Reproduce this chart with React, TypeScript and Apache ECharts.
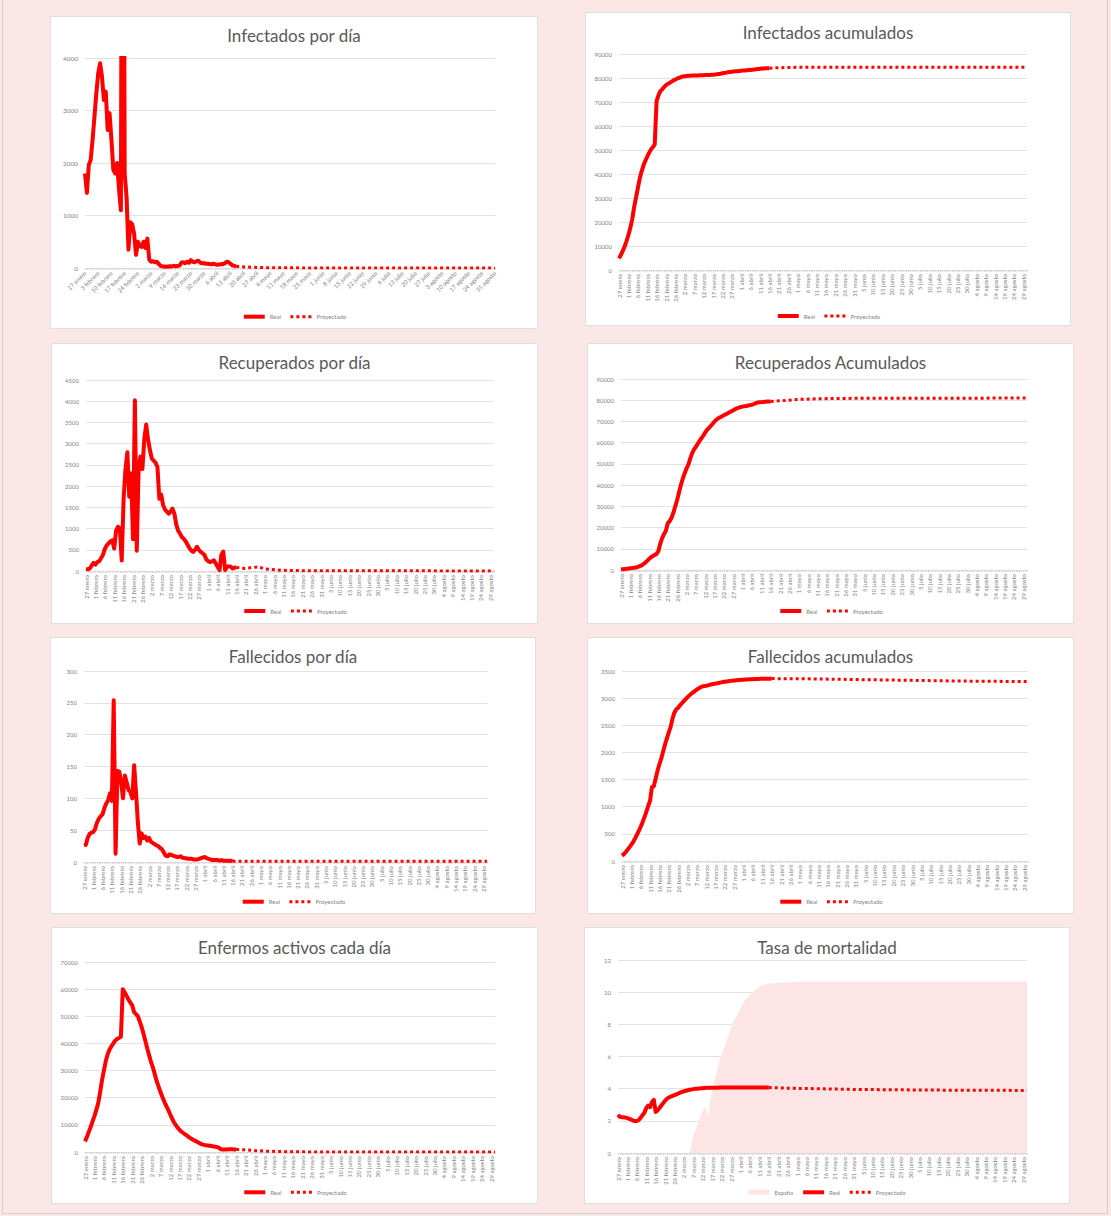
import React, { useEffect, useRef } from 'react';
import * as echarts from 'echarts';

const FONT = 'Lato, "Liberation Sans", sans-serif';
const RED = '#ff0000';
const PINK = '#fde5e5';

// ---------- categories (27 enero .. 31 agosto) ----------
const monthNames = ['enero', 'febrero', 'marzo', 'abril', 'mayo', 'junio', 'julio', 'agosto'];
const monthLengths = [31, 29, 31, 30, 31, 30, 31, 31];
const firstDay = 27;
function buildDates(): string[] {
  const out: string[] = [];
  for (let m = 0; m < monthNames.length; m++) {
    const start = m === 0 ? firstDay : 1;
    for (let d = start; d <= monthLengths[m]; d++) out.push(`${d} ${monthNames[m]}`);
  }
  return out;
}
const dates = buildDates();

// ---------- data (real: one value per day from 27 enero; projection: [dayIndex, value]) ----------
const infDiaReal = [
  1800, 1430, 1960, 2060, 2440, 2880, 3330, 3710, 3900, 3640,
  3200, 3360, 2630, 2950, 2440, 1870, 1800, 2000, 1500, 1100,
  15150, 1800, 1350, 350, 870, 830, 650, 250, 500, 420,
  400, 500, 380, 560, 160, 120, 130, 110, 120, 80,
  40, 30, 30, 25, 30, 35, 30, 40, 35, 40,
  45, 100, 110, 90, 120, 100, 150, 120, 110, 130,
  140, 100, 90, 90, 80, 80, 75, 70, 80, 70,
  60, 65, 75, 70, 90, 120, 110, 80, 50, 40,
  30];
const infDiaProy = [[80, 30], [85, 20], [90, 12], [96, 6], [105, 3], [130, 1], [217, 0]];

const infAcumReal = [
  4850, 6300, 8000, 9800, 12000, 14500, 17500, 21000, 26000, 30000,
  34000, 38000, 41000, 43500, 45500, 47200, 48800, 50200, 51200, 52300,
  70500, 72800, 74500, 75300, 76300, 77000, 77600, 78000, 78500, 79000,
  79400, 79800, 80100, 80400, 80600, 80700, 80800, 80900, 80950, 81000,
  81030, 81060, 81090, 81120, 81150, 81180, 81210, 81250, 81280, 81320,
  81380, 81450, 81550, 81680, 81800, 81950, 82100, 82250, 82380, 82500,
  82600, 82700, 82780, 82850, 82920, 83000, 83080, 83150, 83220, 83300,
  83380, 83450, 83530, 83620, 83720, 83830, 83930, 84000, 84050, 84080,
  84100];
const infAcumProy = [[80, 84100], [85, 84300], [95, 84450], [217, 84500]];

const recDiaReal = [
  50, 40, 60, 130, 190, 150, 210, 230, 300, 380,
  520, 600, 650, 700, 720, 530, 950, 1040, 1000, 250,
  1700, 2400, 2800, 1750, 2300, 750, 4020, 480, 2450, 2700,
  2400, 3100, 3450, 3100, 2850, 2650, 2600, 2550, 2450, 1700,
  1800, 1550, 1450, 1400, 1350, 1400, 1470, 1350, 1100, 950,
  880, 800, 760, 700, 620, 540, 480, 450, 500, 570,
  500, 450, 420, 380, 270, 230, 210, 230, 250, 180,
  100, 20, 380, 460, 20, 100, 110, 100, 60, 80,
  90];
const recDiaProy = [[80, 90], [83, 60], [88, 80], [92, 95], [95, 50], [98, 35], [105, 15], [120, 5], [217, 2]];

const recAcumReal = [
  300, 350, 420, 550, 700, 850, 950, 1050, 1150, 1400,
  1800, 2200, 2800, 3500, 4300, 5200, 6000, 6600, 7100, 7500,
  9000, 12500, 15000, 17000, 18500, 22000, 23000, 24600, 27000, 30000,
  33000, 36500, 40000, 43000, 45500, 47800, 49700, 52500, 55000, 56800,
  58000, 59400, 60800, 62100, 63300, 64800, 66000, 67000, 67900, 68900,
  70000, 70800, 71500, 72000, 72400, 72900, 73400, 73800, 74300, 74800,
  75300, 75800, 76200, 76500, 76800, 77000, 77200, 77300, 77500, 77700,
  77900, 78200, 78600, 78900, 79000, 79100, 79200, 79300, 79350, 79400,
  79450];
const recAcumProy = [[80, 79450], [88, 79900], [96, 80400], [105, 80700], [130, 80950], [217, 81000]];

const falDiaReal = [
  26, 27, 38, 44, 46, 47, 52, 62, 68, 72,
  75, 85, 92, 97, 108, 96, 254, 13, 143, 142,
  125, 100, 136, 125, 113, 110, 100, 152, 110, 62,
  29, 45, 38, 40, 34, 38, 32, 30, 28, 26,
  25, 22, 20, 15, 10, 9, 12, 11, 10, 9,
  8, 8, 9, 7, 6, 6, 5, 5, 5, 4,
  4, 4, 5, 6, 7, 8, 6, 5, 4, 3,
  3, 3, 3, 2, 3, 2, 2, 2, 2, 2,
  1];
const falDiaProy = [[80, 1], [217, 1]];

const falAcumReal = [
  100, 127, 165, 209, 255, 302, 354, 416, 484, 556,
  631, 716, 808, 905, 1013, 1109, 1363, 1376, 1519, 1661,
  1786, 1886, 2022, 2147, 2260, 2370, 2470, 2622, 2732, 2794,
  2823, 2868, 2906, 2946, 2980, 3018, 3050, 3080, 3108, 3134,
  3159, 3181, 3201, 3216, 3222, 3228, 3235, 3248, 3255, 3262,
  3268, 3276, 3282, 3290, 3296, 3302, 3308, 3313, 3318, 3322,
  3326, 3330, 3333, 3336, 3338, 3340, 3342, 3344, 3346, 3348,
  3350, 3352, 3353, 3354, 3355, 3356, 3357, 3358, 3358, 3359,
  3360];
const falAcumProy = [[80, 3360], [100, 3355], [140, 3335], [180, 3315], [217, 3305]];

const activosReal = [
  3900, 5500, 7400, 9200, 11300, 13200, 15500, 18000, 22000, 26500,
  30000, 33500, 36000, 37800, 39000, 40000, 41000, 41700, 42000, 42500,
  60000, 58800, 57500, 56200, 55000, 54000, 51500, 50800, 50000, 48000,
  46000, 43500, 40800, 38000, 35500, 33000, 31000, 28500, 26000, 24000,
  22000, 20200, 18500, 17000, 15600, 14000, 12500, 11000, 10000, 9000,
  8200, 7500, 7000, 6500, 6000, 5500, 5000, 4600, 4200, 3900,
  3500, 3100, 2800, 2600, 2500, 2400, 2300, 2200, 2000, 1900,
  1800, 1500, 1000, 900, 900, 950, 1000, 1000, 1000, 950,
  900];
const activosProy = [[80, 900], [85, 850], [90, 550], [96, 300], [105, 120], [120, 30], [140, 0], [217, 0]];

const tasaReal = [
  2.38, 2.25, 2.23, 2.22, 2.2, 2.17, 2.12, 2.07, 2.02, 1.98,
  1.99, 2.05, 2.18, 2.35, 2.5, 2.8, 2.95, 2.85, 3.15, 3.3,
  2.55, 2.65, 2.8, 2.95, 3.1, 3.25, 3.38, 3.45, 3.5, 3.55,
  3.6, 3.65, 3.7, 3.75, 3.8, 3.84, 3.87, 3.9, 3.93, 3.95,
  3.97, 3.99, 4.0, 4.01, 4.02, 4.03, 4.04, 4.05, 4.05, 4.05,
  4.06, 4.06, 4.06, 4.06, 4.07, 4.07, 4.07, 4.07, 4.07, 4.07,
  4.07, 4.07, 4.07, 4.07, 4.07, 4.07, 4.07, 4.07, 4.07, 4.07,
  4.07, 4.07, 4.07, 4.07, 4.07, 4.07, 4.07, 4.07, 4.07, 4.07,
  4.07];
const tasaProy = [[80, 4.07], [90, 4.03], [127, 3.95], [170, 3.91], [217, 3.89]];
const tasaEspana = [
  [38, 0], [39, 0.5], [40, 1.1], [41, 1.4], [42, 1.7], [43, 2.0], [44, 2.35], [45, 2.65],
  [46, 2.85], [47, 2.6], [48, 2.3], [49, 3.3], [50, 3.9], [51, 4.4], [52, 4.85], [53, 5.3],
  [54, 5.8], [55, 6.15], [56, 6.45], [57, 6.75], [58, 7.1], [59, 7.45], [60, 7.8], [61, 8.1],
  [62, 8.35], [63, 8.5], [64, 8.75], [65, 9.0], [66, 9.25], [67, 9.45], [68, 9.6], [69, 9.72],
  [70, 9.82], [72, 10.05], [74, 10.25], [76, 10.4], [78, 10.48], [80, 10.52], [84, 10.57],
  [88, 10.6], [95, 10.65], [217, 10.65]];

// ---------- panels ----------
type Panel = {
  id: string; title: string;
  box: number[]; // left, top, width, height
  grid: number[]; // left, top, right, bottom (inside panel)
  titleY: number; legendY: number;
  yMax: number; yStep: number; yFont: number;
  labelEvery: number; rotate: number;
  real: number[]; proy: number[][]; espana?: number[][];
};

const panels: Panel[] = [
  { id: 'p1', title: 'Infectados por día', box: [51, 17, 486, 311], grid: [34, 41, 42, 60], titleY: 18.7, legendY: 299.7,
    yMax: 4000, yStep: 1000, yFont: 6.5, labelEvery: 7, rotate: 45, real: infDiaReal, proy: infDiaProy },
  { id: 'p2', title: 'Infectados acumulados', box: [586, 13, 484, 312], grid: [33, 41, 43, 55], titleY: 19, legendY: 303,
    yMax: 90000, yStep: 10000, yFont: 6, labelEvery: 5, rotate: 90, real: infAcumReal, proy: infAcumProy },
  { id: 'p3', title: 'Recuperados por día', box: [52, 344, 485, 279], grid: [34, 36, 43, 52], titleY: 18.7, legendY: 267,
    yMax: 4500, yStep: 500, yFont: 6, labelEvery: 5, rotate: 90, real: recDiaReal, proy: recDiaProy },
  { id: 'p4', title: 'Recuperados Acumulados', box: [588, 344, 485, 279], grid: [33, 35, 46, 53], titleY: 18.7, legendY: 267,
    yMax: 90000, yStep: 10000, yFont: 6, labelEvery: 5, rotate: 90, real: recAcumReal, proy: recAcumProy },
  { id: 'p5', title: 'Fallecidos por día', box: [51, 638, 484, 275], grid: [33, 33, 48, 51], titleY: 18.7, legendY: 263.7,
    yMax: 300, yStep: 50, yFont: 6, labelEvery: 5, rotate: 90, real: falDiaReal, proy: falDiaProy },
  { id: 'p6', title: 'Fallecidos acumulados', box: [588, 638, 485, 275], grid: [34, 33, 45, 52], titleY: 18.7, legendY: 263.7,
    yMax: 3500, yStep: 500, yFont: 6, labelEvery: 5, rotate: 90, real: falAcumReal, proy: falAcumProy },
  { id: 'p7', title: 'Enfermos activos cada día', box: [52, 928, 485, 275], grid: [33, 34, 42, 51], titleY: 19.7, legendY: 264.3,
    yMax: 70000, yStep: 10000, yFont: 6, labelEvery: 5, rotate: 90, real: activosReal, proy: activosProy },
  { id: 'p8', title: 'Tasa de mortalidad', box: [585, 928, 484, 275], grid: [33, 32, 42, 50], titleY: 19.7, legendY: 264.3,
    yMax: 12, yStep: 2, yFont: 6, labelEvery: 5, rotate: 90, real: tasaReal, proy: tasaProy, espana: tasaEspana },
];

function buildOption(p: Panel) {
  const series: any[] = [];
  const legendData: any[] = [];
  if (p.espana) {
    series.push({
      type: 'line', name: 'España', data: p.espana, symbol: 'none', z: 1,
      lineStyle: { width: 0 }, itemStyle: { color: PINK }, areaStyle: { color: PINK, opacity: 1 },
    });
    legendData.push({ name: 'España', icon: 'rect', itemStyle: { color: PINK, opacity: 1 } });
  }
  series.push({
    type: 'line', name: 'Real', data: p.real, symbol: 'none', z: 3,
    itemStyle: { color: RED }, lineStyle: { color: RED, width: 4, join: 'round' },
  });
  series.push({
    type: 'line', name: 'Proyectado', data: p.proy, symbol: 'none', z: 3,
    itemStyle: { color: RED }, lineStyle: { color: RED, width: 3, type: [3, 3], cap: 'butt' },
  });
  legendData.push({ name: 'Real', itemStyle: { opacity: 0 }, lineStyle: { width: 4 } });
  legendData.push({ name: 'Proyectado', itemStyle: { opacity: 0 }, lineStyle: { width: 3, type: [3, 3] } });

  return {
    animation: false,
    textStyle: { fontFamily: FONT },
    title: {
      text: p.title, left: 'center', top: p.titleY - 10, padding: 0,
      textStyle: { fontSize: 17, fontWeight: 'normal', color: '#595959', fontFamily: FONT, lineHeight: 20 },
    },
    legend: {
      left: 'center', top: p.legendY - 4, padding: 0, itemGap: 8, itemWidth: 21, itemHeight: 5,
      selectedMode: false,
      textStyle: { fontSize: 6, color: '#7f7f7f', fontFamily: FONT, lineHeight: 8 },
      data: legendData,
    },
    grid: { left: p.grid[0], top: p.grid[1], right: p.grid[2], bottom: p.grid[3], containLabel: false },
    xAxis: {
      type: 'category', data: dates, boundaryGap: false,
      axisLine: { show: true, lineStyle: { color: '#d9d9d9', width: 1 } },
      axisTick: { show: true, interval: 0, length: 2, lineStyle: { color: '#d9d9d9' } },
      axisLabel: {
        interval: p.labelEvery - 1, rotate: p.rotate, fontSize: 6, color: '#7f7f7f',
        fontFamily: FONT, margin: 4,
      },
      splitLine: { show: false },
    },
    yAxis: {
      type: 'value', min: 0, max: p.yMax, interval: p.yStep,
      axisLine: { show: false }, axisTick: { show: false },
      axisLabel: { fontSize: p.yFont, color: '#7f7f7f', fontFamily: FONT, margin: 7, formatter: (v: number) => String(v) },
      splitLine: { lineStyle: { color: '#e2e2e2', width: 1 } },
    },
    series,
  };
}

export default function App() {
  const refs = useRef<(HTMLDivElement | null)[]>([]);
  useEffect(() => {
    const charts = panels.map((p, i) => {
      const c = echarts.init(refs.current[i] as HTMLDivElement, undefined, { renderer: 'svg' });
      c.setOption(buildOption(p) as any);
      return c;
    });
    return () => charts.forEach((c) => c.dispose());
  }, []);

  return (
    <div style={{ position: 'absolute', left: 0, top: 0, width: 1111, height: 1216, background: '#fce7e7', overflow: 'hidden' }}>
      <div style={{ position: 'absolute', left: 2, top: -1, width: 1106, height: 1215, border: '1px solid #cfcfcf', boxSizing: 'border-box' }} />
      {panels.map((p, i) => (
        <div key={p.id} style={{
          position: 'absolute', left: p.box[0], top: p.box[1], width: p.box[2], height: p.box[3],
          background: '#ffffff', outline: '1px solid #dedede',
        }}>
          <div ref={(el) => { refs.current[i] = el; }} style={{ width: p.box[2], height: p.box[3] }} />
        </div>
      ))}
    </div>
  );
}
